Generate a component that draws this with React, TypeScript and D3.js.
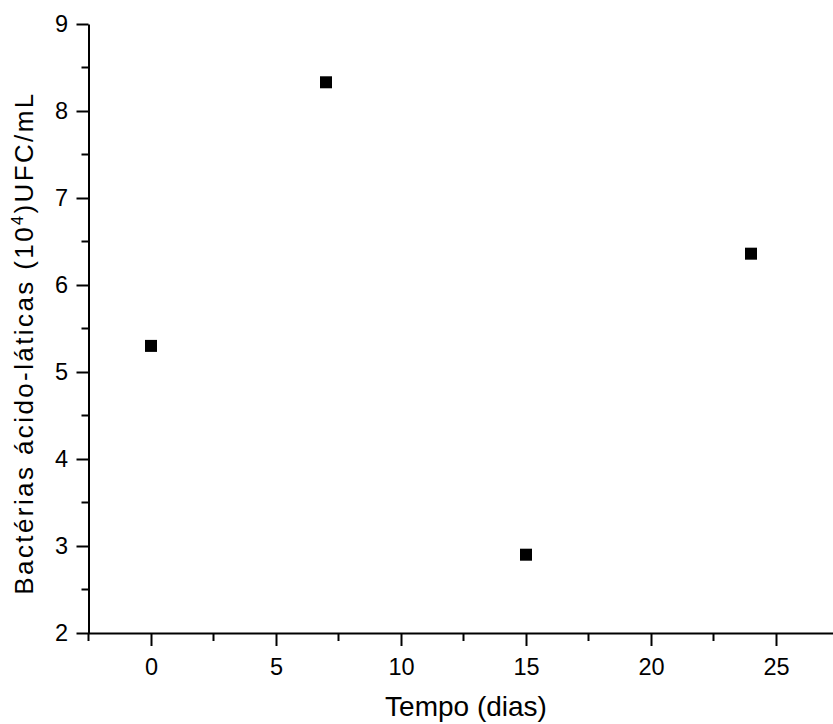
import React, { useEffect, useRef } from 'react';
import * as d3 from 'd3';

// data
const days = [0, 7, 15, 24];
const bacteria = [5.3, 8.33, 2.9, 6.36];
const xMajorTicks = [0, 5, 10, 15, 20, 25];
const xMinorTicks = [-2.5, 2.5, 7.5, 12.5, 17.5, 22.5, 27.5];
const yMajorTicks = [2, 3, 4, 5, 6, 7, 8, 9];
const yMinorTicks = [2.5, 3.5, 4.5, 5.5, 6.5, 7.5, 8.5];

const App = () => {
  const svgRef = useRef<SVGSVGElement>(null);

  useEffect(() => {
    const svg = d3.select(svgRef.current);
    svg.selectAll('*').remove();

    const font = 'Arial, "Liberation Sans", sans-serif';

    const x = d3.scaleLinear().domain([-2.5, 27.5]).range([88.5, 838.5]);
    const y = d3.scaleLinear().domain([2, 9]).range([633, 24]);

    // x axis
    const gx = svg.append('g').attr('transform', `translate(0,${y(2)})`);
    gx.call(d3.axisBottom(x).tickValues(xMajorTicks).tickSize(13).tickPadding(12).tickSizeOuter(0).tickFormat(d3.format('d')));
    gx.select('.domain').attr('stroke-width', 2);
    gx.selectAll('.tick line').attr('stroke-width', 2);
    gx.selectAll('.tick text').style('font-family', font).style('font-size', '23.5px').attr('fill', '#000');
    gx.selectAll('.minor')
      .data(xMinorTicks)
      .enter()
      .append('line')
      .attr('class', 'minor')
      .attr('x1', d => x(d))
      .attr('x2', d => x(d))
      .attr('y1', 0)
      .attr('y2', 8)
      .attr('stroke', '#000')
      .attr('stroke-width', 2);

    // y axis
    const gy = svg.append('g').attr('transform', `translate(${x(-2.5)},0)`);
    gy.call(d3.axisLeft(y).tickValues(yMajorTicks).tickSize(12).tickPadding(8.5).tickSizeOuter(0).tickFormat(d3.format('d')));
    gy.select('.domain').attr('stroke-width', 2);
    gy.selectAll('.tick line').attr('stroke-width', 2);
    gy.selectAll('.tick text').style('font-family', font).style('font-size', '23.5px').attr('fill', '#000');
    gy.selectAll('.minor')
      .data(yMinorTicks)
      .enter()
      .append('line')
      .attr('class', 'minor')
      .attr('x1', 0)
      .attr('x2', -7)
      .attr('y1', d => y(d))
      .attr('y2', d => y(d))
      .attr('stroke', '#000')
      .attr('stroke-width', 2);

    // points
    const size = 12;
    svg.selectAll('.pt')
      .data(days)
      .enter()
      .append('rect')
      .attr('class', 'pt')
      .attr('x', d => x(d) - size / 2)
      .attr('y', (d, i) => y(bacteria[i]) - size / 2)
      .attr('width', size)
      .attr('height', size)
      .attr('fill', '#000');

    // axis titles
    svg.append('text')
      .attr('x', 466)
      .attr('y', 716)
      .attr('text-anchor', 'middle')
      .style('font-family', font)
      .style('font-size', '28px')
      .text('Tempo (dias)');

    const yt = svg.append('text')
      .attr('transform', 'translate(33,343) rotate(-90)')
      .attr('text-anchor', 'middle')
      .style('font-family', font)
      .style('font-size', '26px')
      .style('letter-spacing', '2.4px');
    yt.append('tspan').text('Bactérias ácido-láticas (10');
    yt.append('tspan').attr('dy', -10).style('font-size', '16px').text('4');
    yt.append('tspan').attr('dy', 10).text(')UFC/mL');
  }, []);

  return (
    <div style={{ position: 'fixed', left: 0, top: 0, width: 833, height: 724, overflow: 'hidden', background: '#fff' }}>
      <svg ref={svgRef} width={833} height={724}></svg>
    </div>
  );
};

export default App;
